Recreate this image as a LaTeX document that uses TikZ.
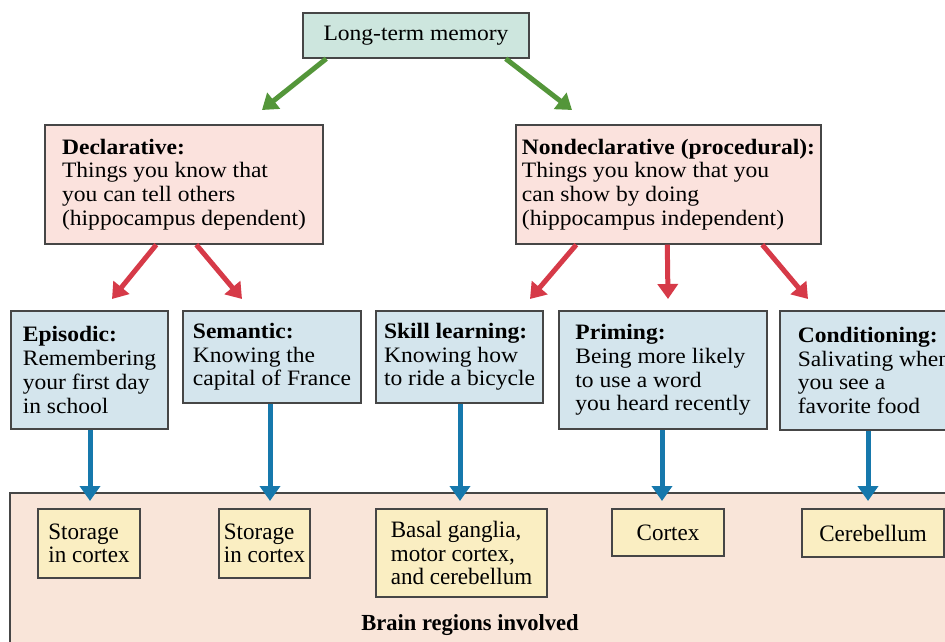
\documentclass[tikz,border=0pt]{standalone}
\usepackage{fontspec}
\setmainfont{Liberation Serif}[FakeStretch=1.07]
\newfontfamily\condfont{Liberation Serif}[FakeStretch=0.98]
\usetikzlibrary{arrows.meta,calc}
\definecolor{ltmfill}{RGB}{205,230,222}
\definecolor{pinkfill}{RGB}{251,226,221}
\definecolor{bluefill}{RGB}{212,229,237}
\definecolor{bgfill}{RGB}{249,229,217}
\definecolor{yelfill}{RGB}{250,238,194}
\definecolor{edge}{RGB}{70,70,70}
\definecolor{garr}{RGB}{84,150,58}
\definecolor{rarr}{RGB}{214,58,72}
\definecolor{barr}{RGB}{22,120,172}
\begin{document}
\begin{tikzpicture}[x=1pt,y=-1pt,
  box/.style={draw=edge,line width=1.4pt,rectangle,inner sep=0pt,align=left,
    font=\fontsize{22}{23.7}\selectfont},
  ybox/.style={draw=edge,line width=1.4pt,rectangle,inner sep=0pt,align=left,fill=yelfill,
    font=\condfont\fontsize{23.5}{23.5}\selectfont},
  arr/.style={line width=5pt,-{Triangle[width=20pt,length=15pt]}},
  garrow/.style={arr,draw=garr},
  rarrow/.style={arr,draw=rarr},
  barrow/.style={arr,draw=barr}]
\useasboundingbox (0,0) rectangle (945,642);
\clip (0,0) rectangle (945,642);
% background area
\node[draw=edge,line width=1.4pt,fill=bgfill,minimum width=950pt,minimum height=162pt,inner sep=0pt] (bg) at (485,574) {};
\node[font=\condfont\fontsize{23}{24}\selectfont\bfseries] (lbl) at (470,625) {Brain regions involved};
% top
\node[box,fill=ltmfill,minimum width=226pt,minimum height=45pt] (ltm) at (416,35.5) {Long-term memory};
\node[box,fill=pinkfill,minimum width=278pt,minimum height=119pt] (decl) at (184,184.5)
  {\textbf{Declarative:}\\Things you know that\\you can tell others\\(hippocampus dependent)};
\node[box,fill=pinkfill,minimum width=305pt,minimum height=119pt] (nond) at (668.5,184.5)
  {\textbf{Nondeclarative (procedural):}\\Things you know that you\\can show by doing\\(hippocampus independent)};
% second row
\node[box,fill=bluefill,minimum width=157pt,minimum height=118pt] (epi) at (89.5,370)
  {\textbf{Episodic:}\\Remembering\\your first day\\in school};
\node[box,fill=bluefill,minimum width=178pt,minimum height=92pt] (sem) at (272,357)
  {\textbf{Semantic:}\\Knowing the\\capital of France};
\node[box,fill=bluefill,minimum width=167pt,minimum height=92pt] (skill) at (459.5,357)
  {\textbf{Skill learning:}\\Knowing how\\to ride a bicycle};
\node[box,fill=bluefill,minimum width=208pt,minimum height=118pt] (prim) at (663,370)
  {\textbf{Priming:}\\Being more likely\\to use a word\\you heard recently};
\node[box,fill=bluefill,minimum width=188pt,minimum height=119pt] (cond) at (874,370.5)
  {\textbf{Conditioning:}\\Salivating when\\you see a\\favorite food};
% brain regions
\node[ybox,minimum width=102pt,minimum height=69pt] (y1) at (89,543.5) {Storage\\in cortex};
\node[ybox,minimum width=91pt,minimum height=69pt] (y2) at (264.5,543.5) {Storage\\in cortex};
\node[ybox,minimum width=171pt,minimum height=88pt] (y3) at (461.5,553) {Basal ganglia,\\motor cortex,\\and cerebellum};
\node[ybox,minimum width=112pt,minimum height=47pt] (y4) at (668,532.5) {Cortex};
\node[ybox,minimum width=142pt,minimum height=48pt] (y5) at (873,533) {Cerebellum};
% arrow tips
\coordinate (g1) at (262,110);
\coordinate (g2) at (572,110);
\coordinate (r1) at (112,299);
\coordinate (r2) at (242,299);
\coordinate (r3) at (530,299);
\coordinate (r4) at (668,299);
\coordinate (r5) at (808,299);
% arrows
\draw[garrow] ($(ltm.south west)+(24,0)$) -- (g1);
\draw[garrow] ($(ltm.south east)+(-24,0)$) -- (g2);
\draw[rarrow] ($(decl.south west)+(112,0)$) -- (r1);
\draw[rarrow] ($(decl.south west)+(152,0)$) -- (r2);
\draw[rarrow] ($(nond.south west)+(61,0)$) -- (r3);
\draw[rarrow] ($(nond.south west)+(152,0)$) -- (r4);
\draw[rarrow] ($(nond.south west)+(247,0)$) -- (r5);
\draw[barrow] (epi.south -| 90,0) -- (90,501);
\draw[barrow] (sem.south -| 270,0) -- (270,501);
\draw[barrow] (skill.south -| 460,0) -- (460,501);
\draw[barrow] (prim.south -| 662,0) -- (662,501);
\draw[barrow] (cond.south -| 868,0) -- (868,501);
\end{tikzpicture}
\end{document}
